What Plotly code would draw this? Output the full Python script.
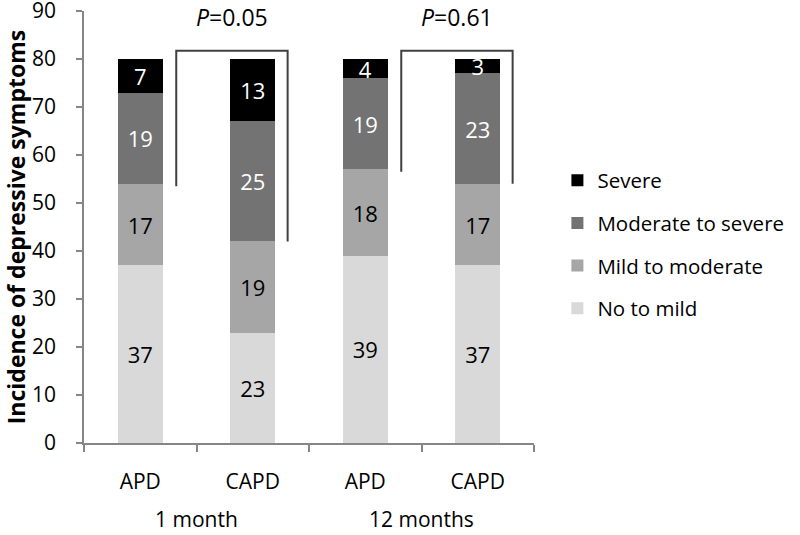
import plotly.graph_objects as go

categories = ["APD", "CAPD", "APD", "CAPD"]
groups = ["1 month", "12 months"]
no_to_mild = [37, 23, 39, 37]
mild_to_moderate = [17, 19, 18, 17]
moderate_to_severe = [19, 25, 19, 23]
severe = [7, 13, 4, 3]
p_values = ["0.05", "0.61"]

series = [
    ("No to mild", no_to_mild, "#d9d9d9", "black"),
    ("Mild to moderate", mild_to_moderate, "#a6a6a6", "black"),
    ("Moderate to severe", moderate_to_severe, "#737373", "white"),
    ("Severe", severe, "#000000", "white"),
]

FONT = "Open Sans"
x = list(range(len(categories)))

fig = go.Figure()
for i, (name, vals, color, tcolor) in enumerate(series):
    fig.add_trace(go.Bar(
        x=x, y=vals, name=name, marker=dict(color=color, line=dict(width=0)),
        width=0.4, text=vals, textposition="inside", insidetextanchor="middle",
        textangle=0, constraintext="none",
        textfont=dict(family=FONT, size=22, color=tcolor),
        legendgroup=name, legendrank=len(series) - i, hoverinfo="skip",
    ))

# brackets
for g in range(2):
    a, c = 2 * g, 2 * g + 1
    yl = no_to_mild[a] + mild_to_moderate[a]
    yr = no_to_mild[c] + mild_to_moderate[c]
    ytop = 81.7
    xl, xr = a + 0.32, c + 0.31
    fig.add_shape(type="path", xref="x", yref="y",
                  path=f"M {xl},{yl - 0.5} L {xl},{ytop} L {xr},{ytop} L {xr},{yr}",
                  line=dict(color="#404040", width=2))
    fig.add_annotation(x=(xl + xr) / 2, y=88.7, xref="x", yref="y",
                       text=f"<i>P</i>={p_values[g]}", showarrow=False,
                       font=dict(family=FONT, size=23, color="black"))

# group labels
for g, name in enumerate(groups):
    fig.add_annotation(x=2 * g + 0.5, y=-0.176, xref="x", yref="paper",
                       text=name, showarrow=False, yanchor="middle",
                       font=dict(family=FONT, size=21, color="black"))

fig.update_layout(
    barmode="stack",
    width=800, height=535,
    margin=dict(l=84, r=256, t=11, b=92),
    plot_bgcolor="white", paper_bgcolor="white",
    font=dict(family=FONT, size=20, color="black"),
    uniformtext=dict(minsize=22, mode="show"),
    showlegend=True,
    legend=dict(x=1.052, xanchor="left", y=0.4595, yanchor="middle",
                traceorder="grouped", tracegroupgap=13,
                font=dict(family=FONT, size=20.5, color="black"),
                bgcolor="rgba(0,0,0,0)"),
    xaxis=dict(range=[-0.5, 3.5], tickmode="array", tickvals=x, ticktext=categories,
               ticks="", showline=True, linecolor="#868686", linewidth=1.5,
               showgrid=False, zeroline=False, ticklabelstandoff=19, automargin=False,
               tickfont=dict(family=FONT, size=21, color="black"),
               minor=dict(tickmode="array", tickvals=[-0.5, 0.5, 1.5, 2.5, 3.5],
                          ticks="outside", ticklen=7, tickcolor="#868686", tickwidth=1.5,
                          showgrid=False)),
    yaxis=dict(range=[0, 90], dtick=10, ticks="outside", ticklen=6,
               tickcolor="#868686", tickwidth=1.5,
               showline=True, linecolor="#868686", linewidth=1.5,
               showgrid=False, zeroline=False, ticklabelstandoff=16, automargin=False,
               ticklabeloverflow="allow",
               tickfont=dict(family=FONT, size=21, color="black"),
               title=dict(text="<b>Incidence of depressive symptoms</b>",
                          font=dict(family=FONT, size=23, color="black"), standoff=24)),
)

fig.write_html("out.html", config={"displayModeBar": False},
               post_script="document.body.style.margin='0';document.body.style.padding='0';")
